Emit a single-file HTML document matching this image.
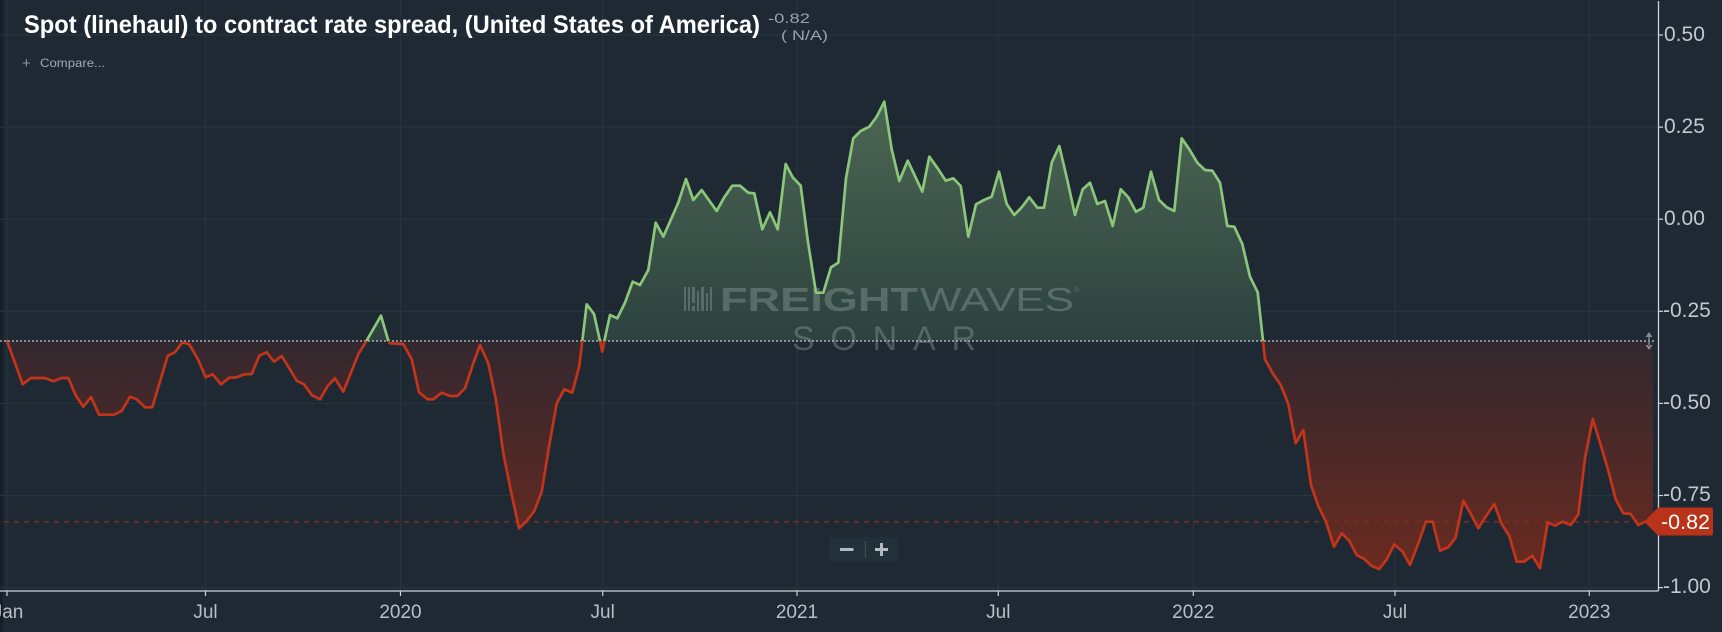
<!DOCTYPE html>
<html>
<head>
<meta charset="utf-8">
<style>
html,body{margin:0;padding:0;background:#1e2934;overflow:hidden;}
svg{display:block;}
text{font-family:"Liberation Sans",sans-serif;}
</style>
</head>
<body>
<svg width="1722" height="632" viewBox="0 0 1722 632" xmlns="http://www.w3.org/2000/svg" xmlns:xlink="http://www.w3.org/1999/xlink">
<defs>
  <linearGradient id="gg" gradientUnits="userSpaceOnUse" x1="0" y1="100" x2="0" y2="341">
    <stop offset="0" stop-color="#4c6753"/>
    <stop offset="1" stop-color="#2d423f"/>
  </linearGradient>
  <linearGradient id="rg" gradientUnits="userSpaceOnUse" x1="0" y1="341" x2="0" y2="575">
    <stop offset="0" stop-color="#33282f"/>
    <stop offset="1" stop-color="#6b2a1f"/>
  </linearGradient>
  <clipPath id="above"><rect x="0" y="0" width="1722" height="341"/></clipPath>
  <clipPath id="below"><rect x="0" y="341" width="1722" height="300"/></clipPath>
  <polygon id="area" points="7.3,341 7.3,341.7 22.7,384.3 30.7,378 45,378 53.3,381.3 61.7,378 68.3,378 76,396 83.3,406.7 91,397 99,414.7 114,414.7 121.7,411 130,396.7 136.7,399.3 145,407.3 152.3,407.3 167.7,355.7 175,352.3 182.3,342.3 189.3,344.3 198.3,360 205.7,377.3 212.7,374.3 221,384.3 229.3,377.7 236.7,377.3 244.3,374.3 251.7,374 259.3,355.7 266.7,352.3 274,361.7 281.7,356 289.3,368.3 296.7,380.7 304,384.3 311.7,395 320,399.3 327.7,386 335,378.3 343.3,391.7 358.3,354.3 366,341.7 381,315.7 388.3,340.7 390,343.3 403.3,344 411.7,359.3 419,392.3 427.7,399.3 433.3,399.3 441.7,392.7 450,396 457.3,396 465,388.3 473.3,363.3 480,345 488.3,363.3 496,400 503.3,453.3 510.7,490 519,528.3 526,521.7 534,511.7 541.7,491.7 549.3,445 556.7,403.3 564.3,389.3 572.3,392.7 579.3,366 582.3,341 586.7,304.3 594,314 600,341 602.3,351.7 604.3,341 610,315 617.3,318.3 625,302.7 632.7,281.7 640,285 648.3,270 655.7,222.7 663.3,236.7 671,219.3 678.3,202.7 686,179 693.3,200 701.7,190 709.3,200.7 716.7,211 724,197.7 732.3,185.7 740,185.7 748.3,192.7 754.3,193.3 762.3,229.3 770,212.3 777.7,229.3 785.7,164 792.7,177.3 800.7,185.7 807.7,240 816,292.7 823.3,292.7 831,267.3 838.3,262.7 846,178.3 853.3,138.3 860.7,131 869.3,126.7 876.7,116.7 884.3,101.7 891.7,149.3 899.3,181 907.7,160.7 915,176 922.3,191.7 929.3,156.7 937.7,168.3 945.7,180.7 953.3,178.3 960.7,186 968.3,236.7 976,204.3 984,200 991.7,196.7 999,171.7 1006.7,204 1014.3,215 1021.7,207.3 1029.3,197.3 1037.3,207.7 1044,207.7 1051.7,162.7 1059.3,146 1067.3,180 1075,215 1082.7,189.3 1090,182.7 1097.3,204 1105,201 1112.7,226 1120.7,189.3 1128.3,197.3 1136,211.7 1143.3,207.7 1151,171.7 1159,200 1166.7,207.3 1174.3,211 1181.7,138.3 1189.3,149.3 1197.3,162.7 1205,170 1212.3,170.7 1220,182.7 1227.3,226 1234.3,226.7 1242.3,244 1250,276.7 1257.7,292.3 1263,340.7 1265,359.3 1273.3,374.3 1280.7,385 1288.3,404 1295.7,443.3 1303.3,430 1311,485 1318.3,506 1326,521.7 1334,546.7 1341.7,533.3 1349.3,540.7 1356.7,555 1364.3,559 1371.7,566 1379.3,569 1386.7,559.3 1394.3,544.3 1402.7,551.7 1410,565 1418.3,543.3 1426,521.7 1432.7,521.7 1440,550.7 1448.3,547.3 1455.7,537.3 1463.3,500.7 1471,514.3 1478.3,528.3 1486.7,515 1494.3,504 1501.7,524 1509.3,536 1516.7,561.7 1524,561.7 1532.3,555.7 1540,568.3 1547.7,522.3 1555,525.7 1562.3,521.7 1570.7,525 1578.3,514.3 1585,458.3 1592.7,419 1600.7,445 1608.3,470.7 1615.7,499.3 1623.3,513.3 1630.7,514 1638.3,525 1645,521.7 1653,521.7 1653,341"/>
  <polyline id="ln" points="7.3,341.7 22.7,384.3 30.7,378 45,378 53.3,381.3 61.7,378 68.3,378 76,396 83.3,406.7 91,397 99,414.7 114,414.7 121.7,411 130,396.7 136.7,399.3 145,407.3 152.3,407.3 167.7,355.7 175,352.3 182.3,342.3 189.3,344.3 198.3,360 205.7,377.3 212.7,374.3 221,384.3 229.3,377.7 236.7,377.3 244.3,374.3 251.7,374 259.3,355.7 266.7,352.3 274,361.7 281.7,356 289.3,368.3 296.7,380.7 304,384.3 311.7,395 320,399.3 327.7,386 335,378.3 343.3,391.7 358.3,354.3 366,341.7 381,315.7 388.3,340.7 390,343.3 403.3,344 411.7,359.3 419,392.3 427.7,399.3 433.3,399.3 441.7,392.7 450,396 457.3,396 465,388.3 473.3,363.3 480,345 488.3,363.3 496,400 503.3,453.3 510.7,490 519,528.3 526,521.7 534,511.7 541.7,491.7 549.3,445 556.7,403.3 564.3,389.3 572.3,392.7 579.3,366 582.3,341 586.7,304.3 594,314 600,341 602.3,351.7 604.3,341 610,315 617.3,318.3 625,302.7 632.7,281.7 640,285 648.3,270 655.7,222.7 663.3,236.7 671,219.3 678.3,202.7 686,179 693.3,200 701.7,190 709.3,200.7 716.7,211 724,197.7 732.3,185.7 740,185.7 748.3,192.7 754.3,193.3 762.3,229.3 770,212.3 777.7,229.3 785.7,164 792.7,177.3 800.7,185.7 807.7,240 816,292.7 823.3,292.7 831,267.3 838.3,262.7 846,178.3 853.3,138.3 860.7,131 869.3,126.7 876.7,116.7 884.3,101.7 891.7,149.3 899.3,181 907.7,160.7 915,176 922.3,191.7 929.3,156.7 937.7,168.3 945.7,180.7 953.3,178.3 960.7,186 968.3,236.7 976,204.3 984,200 991.7,196.7 999,171.7 1006.7,204 1014.3,215 1021.7,207.3 1029.3,197.3 1037.3,207.7 1044,207.7 1051.7,162.7 1059.3,146 1067.3,180 1075,215 1082.7,189.3 1090,182.7 1097.3,204 1105,201 1112.7,226 1120.7,189.3 1128.3,197.3 1136,211.7 1143.3,207.7 1151,171.7 1159,200 1166.7,207.3 1174.3,211 1181.7,138.3 1189.3,149.3 1197.3,162.7 1205,170 1212.3,170.7 1220,182.7 1227.3,226 1234.3,226.7 1242.3,244 1250,276.7 1257.7,292.3 1263,340.7 1265,359.3 1273.3,374.3 1280.7,385 1288.3,404 1295.7,443.3 1303.3,430 1311,485 1318.3,506 1326,521.7 1334,546.7 1341.7,533.3 1349.3,540.7 1356.7,555 1364.3,559 1371.7,566 1379.3,569 1386.7,559.3 1394.3,544.3 1402.7,551.7 1410,565 1418.3,543.3 1426,521.7 1432.7,521.7 1440,550.7 1448.3,547.3 1455.7,537.3 1463.3,500.7 1471,514.3 1478.3,528.3 1486.7,515 1494.3,504 1501.7,524 1509.3,536 1516.7,561.7 1524,561.7 1532.3,555.7 1540,568.3 1547.7,522.3 1555,525.7 1562.3,521.7 1570.7,525 1578.3,514.3 1585,458.3 1592.7,419 1600.7,445 1608.3,470.7 1615.7,499.3 1623.3,513.3 1630.7,514 1638.3,525 1645,521.7"/>
</defs>

<rect x="0" y="0" width="1722" height="632" fill="#1e2934"/>
<rect x="0" y="0" width="3" height="632" fill="#161f28"/>

<!-- grid -->
<g stroke="#28353f" stroke-width="1">
  <line x1="0" y1="35" x2="1658" y2="35"/>
  <line x1="0" y1="127.1" x2="1658" y2="127.1"/>
  <line x1="0" y1="219.2" x2="1658" y2="219.2"/>
  <line x1="0" y1="311.3" x2="1658" y2="311.3"/>
  <line x1="0" y1="403.4" x2="1658" y2="403.4"/>
  <line x1="0" y1="495.5" x2="1658" y2="495.5"/>
  <line x1="0" y1="587.6" x2="1658" y2="587.6"/>
  <line x1="7" y1="0" x2="7" y2="591"/>
  <line x1="205.5" y1="0" x2="205.5" y2="591"/>
  <line x1="400.5" y1="0" x2="400.5" y2="591"/>
  <line x1="602.7" y1="0" x2="602.7" y2="591"/>
  <line x1="797" y1="0" x2="797" y2="591"/>
  <line x1="998.3" y1="0" x2="998.3" y2="591"/>
  <line x1="1193.3" y1="0" x2="1193.3" y2="591"/>
  <line x1="1395" y1="0" x2="1395" y2="591"/>
  <line x1="1589.3" y1="0" x2="1589.3" y2="591"/>
</g>

<!-- fills -->
<g clip-path="url(#above)"><use href="#area" xlink:href="#area" fill="url(#gg)"/></g>
<g clip-path="url(#below)"><use href="#area" xlink:href="#area" fill="url(#rg)"/></g>

<!-- watermark -->
<g fill="#9aa6a4" opacity="0.38">
  <rect x="684" y="287" width="2" height="24"/>
  <rect x="688" y="287" width="2" height="24"/>
  <rect x="692" y="287" width="3" height="16"/>
  <rect x="692" y="306" width="3" height="5"/>
  <rect x="697" y="291" width="2" height="20"/>
  <rect x="701" y="287" width="3" height="24"/>
  <rect x="706" y="293" width="2" height="18"/>
  <rect x="710" y="287" width="2" height="24"/>
  <text x="720" y="311" font-size="33" font-weight="bold" textLength="198" lengthAdjust="spacingAndGlyphs">FREIGHT</text>
  <text x="920" y="311" font-size="33" textLength="154" lengthAdjust="spacingAndGlyphs">WAVES</text>
  <text x="1074" y="292" font-size="7">®</text>
  <text x="792" y="350" font-size="34" textLength="184" lengthAdjust="spacing">SONAR</text>
</g>

<!-- baseline dotted -->
<line x1="0" y1="341" x2="1656" y2="341" stroke="#a9b0b6" stroke-width="1.6" stroke-dasharray="2,2"/>
<path d="M1645.5,337 L1649,332 L1652.5,337 Z M1645.5,345 L1649,350 L1652.5,345 Z M1648.3,336 h1.4 v10 h-1.4 Z" fill="#7f8a90"/>

<!-- -0.82 dashed -->
<line x1="4" y1="521.7" x2="1630" y2="521.7" stroke="#7a2c21" stroke-width="1.6" stroke-dasharray="5,5"/>

<!-- line -->
<g fill="none" stroke-width="2.7" stroke-linejoin="round" stroke-linecap="round">
  <g clip-path="url(#above)"><use href="#ln" xlink:href="#ln" stroke="#8cc67a"/></g>
  <g clip-path="url(#below)"><use href="#ln" xlink:href="#ln" stroke="#c4341a"/></g>
</g>

<!-- axes -->
<line x1="1658.5" y1="1" x2="1658.5" y2="591" stroke="#cfd3d6" stroke-width="1.3"/>
<line x1="0" y1="591" x2="1658.5" y2="591" stroke="#cfd3d6" stroke-width="1.3"/>
<g stroke="#cfd3d6" stroke-width="1.2">
  <line x1="1658" y1="35" x2="1663" y2="35"/>
  <line x1="1658" y1="127.1" x2="1663" y2="127.1"/>
  <line x1="1658" y1="219.2" x2="1663" y2="219.2"/>
  <line x1="1658" y1="311.3" x2="1663" y2="311.3"/>
  <line x1="1658" y1="403.4" x2="1663" y2="403.4"/>
  <line x1="1658" y1="495.5" x2="1663" y2="495.5"/>
  <line x1="1658" y1="587.6" x2="1663" y2="587.6"/>
  <line x1="7" y1="591" x2="7" y2="596"/>
  <line x1="205.5" y1="591" x2="205.5" y2="596"/>
  <line x1="400.5" y1="591" x2="400.5" y2="596"/>
  <line x1="602.7" y1="591" x2="602.7" y2="596"/>
  <line x1="797" y1="591" x2="797" y2="596"/>
  <line x1="998.3" y1="591" x2="998.3" y2="596"/>
  <line x1="1193.3" y1="591" x2="1193.3" y2="596"/>
  <line x1="1395" y1="591" x2="1395" y2="596"/>
  <line x1="1589.3" y1="591" x2="1589.3" y2="596"/>
</g>

<!-- y labels -->
<g fill="#c3c8cc" font-size="21">
  <text x="1664" y="41">0.50</text>
  <text x="1664" y="133">0.25</text>
  <text x="1664" y="225">0.00</text>
  <text x="1663" y="317">-0.25</text>
  <text x="1663" y="409">-0.50</text>
  <text x="1663" y="501">-0.75</text>
  <text x="1663" y="593">-1.00</text>
</g>

<!-- x labels -->
<g fill="#b9bfc4" font-size="19" text-anchor="middle">
  <text x="8" y="618">Jan</text>
  <text x="205.5" y="618">Jul</text>
  <text x="400.5" y="618">2020</text>
  <text x="602.7" y="618">Jul</text>
  <text x="797" y="618">2021</text>
  <text x="998.3" y="618">Jul</text>
  <text x="1193.3" y="618">2022</text>
  <text x="1395" y="618">Jul</text>
  <text x="1589.3" y="618">2023</text>
</g>

<!-- last value label -->
<path d="M1644,521.7 L1658,507.5 L1711,507.5 Q1713,507.5 1713,509.5 L1713,533.5 Q1713,535.5 1711,535.5 L1658,535.5 Z" fill="#b9321a"/>
<text x="1661" y="529" font-size="21" fill="#ffffff" textLength="49" lengthAdjust="spacingAndGlyphs">-0.82</text>

<!-- zoom buttons -->
<rect x="829" y="537" width="69" height="25" rx="3" fill="#22303c"/>
<rect x="840" y="548" width="13.5" height="3" fill="#b3b9be"/>
<rect x="875" y="548" width="13" height="3" fill="#b3b9be"/>
<rect x="880" y="543" width="3" height="13" fill="#b3b9be"/>
<line x1="865.3" y1="541" x2="865.3" y2="558" stroke="#3d5a4a" stroke-width="1"/>

<!-- title -->
<text x="24" y="33" font-size="25" font-weight="bold" fill="#ffffff" textLength="736" lengthAdjust="spacingAndGlyphs">Spot (linehaul) to contract rate spread, (United States of America)</text>
<text x="768" y="23" font-size="14" fill="#9ba1a7" textLength="42" lengthAdjust="spacingAndGlyphs">-0.82</text>
<text x="781" y="40" font-size="14" fill="#9ba1a7" textLength="47" lengthAdjust="spacingAndGlyphs">( N/A)</text>
<text x="22" y="68" font-size="15" fill="#8c949a">+</text>
<text x="40" y="67" font-size="12" fill="#a3a9ae" textLength="65" lengthAdjust="spacingAndGlyphs">Compare...</text>
</svg>
</body>
</html>
